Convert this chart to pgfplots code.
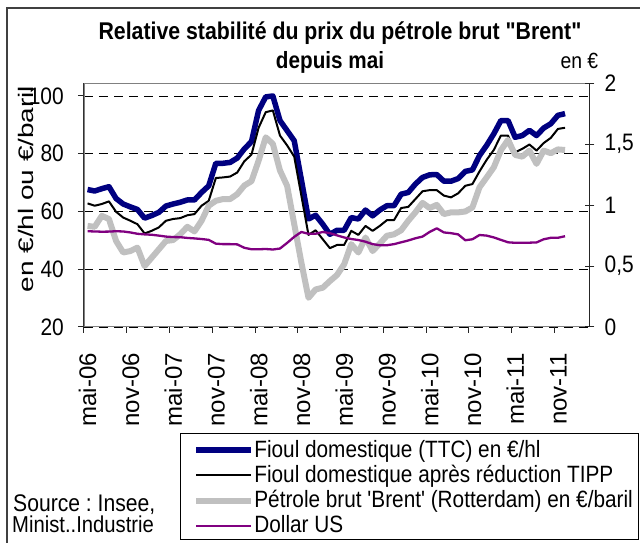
\documentclass[border=0pt]{standalone}
\usepackage{fontspec}
\setmainfont{Liberation Sans}[FakeStretch=0.88, Ligatures=TeXOff]
\newfontfamily\rotfont{Liberation Sans}[Ligatures=TeXOff]
\newfontfamily\ylabfont{Liberation Sans}[FakeStretch=1.33, Ligatures=TeXOff]
\usepackage{pgfplots}
\usepackage{pgfplotstable}
\pgfplotsset{compat=1.18}

\definecolor{ttcblue}{RGB}{0,0,128}
\definecolor{brentgray}{RGB}{192,192,192}
\definecolor{usdpurple}{RGB}{128,0,128}

% m = mois depuis mai-06
\pgfplotstableread{
m  ttc   tipp  brent usd
0  67.6  62.8  55.0  0.786
1  67.1  62.0  54.7  0.784
2  67.9  62.6  58.5  0.782
3  68.6  63.5  57.4  0.783
4  64.5  59.9  49.8  0.786
5  62.6  57.9  45.8  0.784
6  61.6  56.8  46.3  0.776
7  60.7  55.6  47.5  0.765
8  57.7  52.4  41.1  0.760
9  58.6  53.3  44.0  0.757
10 59.7  54.5  46.9  0.750
11 61.9  56.8  49.8  0.742
12 62.6  57.4  50.1  0.738
13 63.2  57.7  52.1  0.737
14 64.0  58.7  54.7  0.731
15 64.0  59.1  53.1  0.727
16 66.6  62.0  56.8  0.722
17 68.9  63.7  62.0  0.715
18 76.7  71.6  63.7  0.684
19 76.7  71.8  64.3  0.680
20 77.0  72.1  64.3  0.680
21 78.5  73.5  66.0  0.678
22 81.7  77.4  69.0  0.650
23 84.2  79.7  70.5  0.638
24 95.0  89.0  77.6  0.638
25 99.7  94.4  85.7  0.640
26 100.0 95.0  83.4  0.636
27 91.5  86.3  74.2  0.644
28 88.0  82.9  68.9  0.690
29 84.5  79.0  55.6  0.740
30 71.0  65.5  42.3  0.780
31 57.4  51.9  30.1  0.765
32 58.7  53.5  33.0  0.765
33 55.6  50.4  33.6  0.780
34 52.1  47.3  35.9  0.770
35 53.5  48.4  38.0  0.752
36 53.5  48.4  41.7  0.735
37 57.9  53.3  48.7  0.722
38 57.4  51.9  45.8  0.714
39 60.5  55.0  51.0  0.700
40 58.5  53.3  46.3  0.680
41 60.5  55.0  48.9  0.671
42 62.0  57.0  51.6  0.671
43 62.0  57.0  52.1  0.680
44 66.0  61.2  53.5  0.695
45 66.6  61.6  56.8  0.710
46 69.5  64.3  59.7  0.728
47 71.8  67.0  63.0  0.742
48 72.7  67.4  61.2  0.780
49 72.8  67.4  62.3  0.810
50 70.5  65.5  59.1  0.776
51 70.5  64.9  59.7  0.770
52 71.4  66.3  59.7  0.760
53 73.9  68.9  60.0  0.712
54 74.4  69.5  61.4  0.720
55 79.4  73.9  68.4  0.755
56 82.9  77.9  71.8  0.750
57 86.9  81.3  75.3  0.735
58 91.5  86.3  81.2  0.715
59 91.5  86.3  84.8  0.695
60 85.7  80.5  79.6  0.691
61 86.3  81.7  79.0  0.691
62 88.1  83.2  81.1  0.692
63 86.3  81.1  76.5  0.694
64 88.9  83.7  81.1  0.720
65 90.4  85.5  80.2  0.732
66 93.3  88.6  81.5  0.732
67 93.9  89.0  81.3  0.745
}\prix

\begin{document}
\begin{tikzpicture}[x=1pt,y=1pt]
\useasboundingbox (0,0) rectangle (640,543);
\draw[black!75, line width=1.2pt] (7,-10) -- (7,535) -- (660,535);

\begin{axis}[
  at={(84pt,216pt)}, anchor=south west,
  scale only axis, width=506pt, height=243.7pt,
  xmin=0, xmax=71, ymin=20, ymax=104.4,
  axis x line*=bottom, axis y line*=left,
  axis line style={black!85, line width=1pt},
  xtick={0,6,...,66},
  xticklabels={mai-06,nov-06,mai-07,nov-07,mai-08,nov-08,mai-09,nov-09,mai-10,nov-10,mai-11,nov-11},
  ytick={20,40,...,100},
  tick align=outside,
  major tick length=6pt,
  tick style={black!85, line width=1pt},
  ymajorgrids,
  major grid style={black, line width=0.9pt, dash pattern=on 9pt off 6pt},
  /pgf/number format/assume math mode=true,
  yticklabel shift=14pt,
  xticklabel shift=20pt,
  yticklabel style={font=\fontsize{23.8}{26}\selectfont, inner sep=0pt, anchor=east},
  xticklabel style={font=\rotfont\fontsize{24}{26}\selectfont, inner sep=0pt,
    text height=24.5pt, text depth=0pt, rotate=90, anchor=east},
  ylabel={en €/hl ou €/baril},
  ylabel style={font=\ylabfont\fontsize{21}{24}\selectfont, at={(axis description cs:-0.1146,0.566)}, anchor=center},
]
\draw[gray, line width=1.2pt] (rel axis cs:0,0) rectangle (rel axis cs:1,1);
\addplot[ttcblue, line width=5.5pt, line join=round] table[x expr=\thisrow{m}+0.5, y=ttc] {\prix};
\addplot[black, line width=2pt, line join=round] table[x expr=\thisrow{m}+0.5, y=tipp] {\prix};
\addplot[brentgray, line width=6pt, line join=round] table[x expr=\thisrow{m}+0.5, y=brent] {\prix};
\end{axis}

\begin{axis}[
  at={(84pt,216pt)}, anchor=south west,
  scale only axis, width=506pt, height=243.7pt,
  xmin=0, xmax=71, ymin=0, ymax=2,
  axis x line=none, axis y line*=right,
  axis line style={black!85, line width=1pt},
  ytick={0,0.5,1,1.5,2},
  yticklabels={0,{0,5},1,{1,5},2},
  tick align=center,
  major tick length=9pt,
  tick style={black!85, line width=1pt},
  yticklabel shift=10pt,
  yticklabel style={font=\fontsize{23.8}{26}\selectfont, inner sep=0pt, anchor=west},
  legend style={at={(0.1897,-0.435)}, anchor=north west, draw=black, line width=0.8pt,
    font=\fontsize{23.6}{26}\selectfont, inner xsep=6pt, inner ysep=2.5pt, row sep=0pt,
    nodes={inner sep=0pt, text height=21.1pt, text depth=4.2pt}, column sep=0pt},
  legend cell align=left,
  legend image code/.code={\path (0pt,0pt); \draw[#1] (7pt,-1.5pt) -- (62pt,-1.5pt); \path (59pt,0pt);},
]
\addlegendimage{ttcblue, line width=5.5pt}
\addlegendentry{Fioul domestique (TTC) en €/hl}
\addlegendimage{black, line width=2pt}
\addlegendentry{Fioul domestique après réduction TIPP}
\addlegendimage{brentgray, line width=6pt}
\addlegendentry{Pétrole brut 'Brent' (Rotterdam) en €/baril}
\addplot[usdpurple, line width=2.3pt, line join=round] table[x expr=\thisrow{m}+0.5, y=usd] {\prix};
\addlegendentry{Dollar US}
\end{axis}

\node[anchor=base, font=\bfseries\fontsize{24.2}{28}\selectfont] at (340,503) {Relative stabilité du prix du pétrole brut "Brent"};
\node[anchor=base, font=\bfseries\fontsize{23.5}{28}\selectfont] at (330,474) {depuis mai};
\node[anchor=base west, font=\fontsize{22}{26}\selectfont] at (557,474) {en €};
\node[anchor=base west, font=\fontsize{24}{26}\selectfont, inner sep=0pt] at (13,31) {\frenchspacing Source : Insee,};
\node[anchor=base west, font=\fontsize{23}{26}\selectfont, inner sep=0pt] at (12,10) {Minist..Industrie};
\end{tikzpicture}
\end{document}
